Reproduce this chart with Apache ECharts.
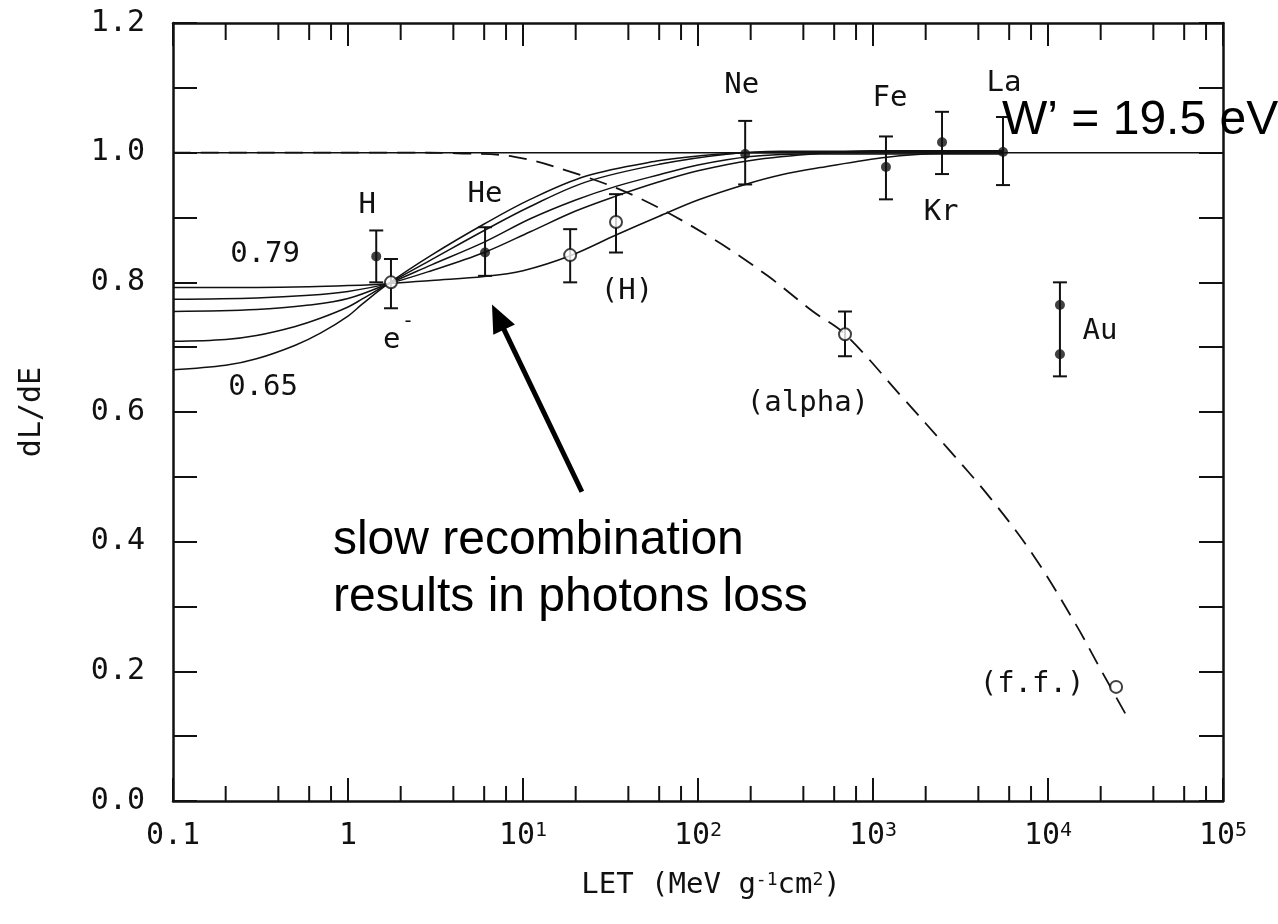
<!DOCTYPE html>
<html><head><meta charset="utf-8">
<script src="https://cdn.jsdelivr.net/npm/echarts@6/dist/echarts.min.js"></script>
<style>html,body{margin:0;padding:0;background:#fff}#c{width:1278px;height:924px}</style>
</head><body><div id="c"></div>
<script>
// ---------- DATA ----------
const xTickLabels = ['0.1', '1', '10{sup|1}', '10{sup|2}', '10{sup|3}', '10{sup|4}', '10{sup|5}'];
const yTickLabels = ['0.0', '0.2', '0.4', '0.6', '0.8', '1.0', '1.2'];
const xMinorTicks = [0.2,0.4,0.6,0.8, 2,4,6,8, 20,40,60,80, 200,400,600,800, 2000,4000,6000,8000, 20000,40000,60000,80000];

const refLine = [[0.1, 1.0], [100000, 1.0]];
const curve079 = [[0.1,0.792],[0.3,0.792],[0.6,0.793],[1,0.795],[1.7,0.798],[3,0.803],[6,0.809],[10,0.818],[18.6,0.841],[34,0.873],[60,0.902],[100,0.927],[186,0.951],[300,0.966],[500,0.977],[1200,0.993],[2500,0.999],[5500,1.0]];
const curve077 = [[0.1,0.774],[0.3,0.776],[0.6,0.780],[1,0.786],[1.7,0.798],[3,0.818],[6,0.846],[11,0.878],[20,0.910],[34,0.933],[60,0.955],[100,0.972],[200,0.988],[500,0.999],[1000,1.003],[5500,1.003]];
const curve075 = [[0.1,0.755],[0.3,0.758],[0.6,0.765],[1,0.775],[1.7,0.798],[3,0.827],[6,0.862],[11,0.898],[20,0.927],[34,0.948],[60,0.966],[100,0.981],[200,0.994],[400,0.998],[5500,0.998]];
const curve071 = [[0.1,0.709],[0.2,0.712],[0.3,0.718],[0.5,0.732],[0.7,0.745],[1,0.762],[1.2,0.774],[1.7,0.798],[3,0.835],[6,0.880],[11,0.917],[23,0.955],[60,0.982],[150,0.998],[300,1.002],[5500,1.002]];
const curve065 = [[0.1,0.665],[0.2,0.672],[0.3,0.682],[0.5,0.703],[0.7,0.722],[1,0.748],[1.2,0.766],[1.7,0.798],[3,0.842],[6,0.890],[11,0.928],[23,0.964],[58,0.987],[100,0.995],[200,1.0],[5500,1.0]];
const dashedCurve = [[0.1,1.0],[2,1.0],[4.2,0.999],[8.8,0.994],[21,0.966],[47,0.929],[122,0.867],[250,0.810],[454,0.755],[692,0.720],[1500,0.620],[2650,0.545],[4660,0.468],[8200,0.380],[14450,0.272],[19800,0.205],[29400,0.122]];

const filledX = [1.45, 6.07, 186, 1186, 2480, 5530, 11700, 11700];
const filledY = [0.840, 0.846, 0.998, 0.978, 1.016, 1.001, 0.765, 0.689];
const openX = [1.76, 18.6, 34, 692, 24500];
const openY = [0.800, 0.842, 0.893, 0.720, 0.176];
const errX  = [1.45, 6.07, 186, 1186, 2480, 5530, 11700, 1.76, 18.6, 34, 692];
const errLo = [0.800, 0.810, 0.951, 0.928, 0.967, 0.950, 0.655, 0.760, 0.800, 0.846, 0.686];
const errHi = [0.880, 0.885, 1.049, 1.025, 1.063, 1.055, 0.800, 0.836, 0.882, 0.936, 0.755];

const labelText = ['H', 'He', 'Ne', 'Fe', 'La', 'Kr', '0.79', '0.65', 'e', '-', '(H)', '(alpha)', 'Au', '(f.f.)'];
const labelX    = [1.29, 6.07, 178, 1250, 5610, 2450, 0.336, 0.327, 1.78, 2.2, 39.3, 425, 19800, 8110];
const labelY    = [0.919, 0.936, 1.104, 1.084, 1.107, 0.908, 0.843, 0.638, 0.710, 0.739, 0.786, 0.613, 0.724, 0.179];

const noteText = ['W\u2019 = 19.5 eV', 'slow recombination', 'results in photons loss'];
const noteX    = [5460, 0.82, 0.82];
const noteY    = [1.049, 0.4015, 0.3135];

const arrowFrom = [21.7, 0.477];
const arrowTo   = [6.65, 0.766];

// ---------- CHART ----------
const MONO = "'DejaVu Sans Mono', monospace";
const HELV = "'Liberation Sans', Arial, sans-serif";
const INK = '#111';

const chart = echarts.init(document.getElementById('c'), null, {renderer: 'canvas'});

function xAxisCfg(pos, showLabel) {
  return {
    type: 'log', logBase: 10, min: 0.1, max: 100000, splitNumber: 6, position: pos,
    axisLine: {show: true, onZero: false, lineStyle: {color: INK, width: 2.5}},
    axisTick: {show: true, inside: true, length: 23, lineStyle: {color: INK, width: 2}},
    minorTick: {show: false},
    splitLine: {show: false},
    axisLabel: showLabel ? {
      show: true, margin: 20, color: INK, fontFamily: MONO, fontSize: 30,
      formatter: v => xTickLabels[Math.round(Math.log10(v)) + 1],
      rich: {sup: {fontSize: 20, fontFamily: MONO, color: INK, verticalAlign: 'top', lineHeight: 14}}
    } : {show: false},
    name: showLabel ? 'LET (MeV g{sup|-1}cm{sup|2})' : '',
    nameLocation: 'middle', nameGap: 70,
    nameTextStyle: {color: INK, fontFamily: MONO, fontSize: 29, padding: [0, 0, 0, 26],
      rich: {sup: {fontSize: 18, fontFamily: MONO, color: INK, verticalAlign: 'top', lineHeight: 12}}}
  };
}
function yAxisCfg(pos, showLabel) {
  return {
    type: 'value', min: 0, max: 1.2, interval: 0.2, position: pos,
    axisLine: {show: true, onZero: false, lineStyle: {color: INK, width: 2.5}},
    axisTick: {show: true, inside: true, length: 24, lineStyle: {color: INK, width: 2}},
    minorTick: {show: true, splitNumber: 2, length: 24, lineStyle: {color: INK, width: 2}},
    splitLine: {show: false},
    axisLabel: showLabel ? {
      show: true, margin: 28, color: INK, fontFamily: MONO, fontSize: 30,
      formatter: v => yTickLabels[Math.round(v / 0.2)]
    } : {show: false},
    name: showLabel ? 'dL/dE' : '',
    nameLocation: 'middle', nameGap: 126,
    nameTextStyle: {color: INK, fontFamily: MONO, fontSize: 30}
  };
}

function lineSeries(data, dashed) {
  return {
    type: 'line', data: data, xAxisIndex: 0, yAxisIndex: 0,
    showSymbol: false, smooth: 0.35, silent: true, z: 3,
    lineStyle: {color: INK, width: dashed ? 1.8 : 1.5, type: dashed ? [18, 10] : 'solid'}
  };
}

const option = {
  backgroundColor: '#fff',
  animation: false,
  grid: {left: 173, right: 55, top: 23, bottom: 123},
  xAxis: [xAxisCfg('bottom', true), xAxisCfg('top', false)],
  yAxis: [yAxisCfg('left', true), yAxisCfg('right', false)],
  series: [
    lineSeries(refLine, false),
    lineSeries(curve079, false),
    lineSeries(curve077, false),
    lineSeries(curve075, false),
    lineSeries(curve071, false),
    lineSeries(curve065, false),
    lineSeries(dashedCurve, true),
    { // minor ticks on bottom and top x axes
      type: 'custom', silent: true, clip: false, z: 5,
      data: xMinorTicks.map(v => [v]),
      encode: {x: 0},
      renderItem: (params, api) => {
        const v = api.value(0);
        const b = api.coord([v, 0]);
        const t = api.coord([v, 1.2]);
        const st = {stroke: INK, lineWidth: 2};
        return {type: 'group', children: [
          {type: 'line', shape: {x1: b[0], y1: b[1], x2: b[0], y2: b[1] - 15}, style: st},
          {type: 'line', shape: {x1: t[0], y1: t[1], x2: t[0], y2: t[1] + 17}, style: st}
        ]};
      }
    },
    { // error bars
      type: 'custom', silent: true, z: 6,
      data: errX.map((x, i) => [x, errLo[i], errHi[i]]),
      encode: {x: 0, y: [1, 2]},
      renderItem: (params, api) => {
        const x = api.value(0);
        const lo = api.coord([x, api.value(1)]);
        const hi = api.coord([x, api.value(2)]);
        const w = 7;
        const st = {stroke: INK, lineWidth: 2};
        return {type: 'group', children: [
          {type: 'line', shape: {x1: lo[0], y1: lo[1], x2: hi[0], y2: hi[1]}, style: st},
          {type: 'line', shape: {x1: lo[0] - w, y1: lo[1], x2: lo[0] + w, y2: lo[1]}, style: st},
          {type: 'line', shape: {x1: hi[0] - w, y1: hi[1], x2: hi[0] + w, y2: hi[1]}, style: st}
        ]};
      }
    },
    {
      type: 'scatter', silent: true, z: 7,
      data: filledX.map((x, i) => [x, filledY[i]]),
      symbol: 'circle', symbolSize: 10,
      itemStyle: {color: INK}
    },
    {
      type: 'scatter', silent: true, z: 7,
      data: openX.map((x, i) => [x, openY[i]]),
      symbol: 'circle', symbolSize: 12,
      itemStyle: {color: '#fff', borderColor: INK, borderWidth: 2}
    },
    { // text labels on the plot
      type: 'custom', silent: true, clip: false, z: 8,
      data: labelX.map((x, i) => [x, labelY[i]]),
      encode: {x: 0, y: 1},
      renderItem: (params, api) => {
        const p = api.coord([api.value(0), api.value(1)]);
        const t = labelText[params.dataIndex];
        return {type: 'text', x: p[0], y: p[1], style: {
          text: t, fill: INK, fontFamily: MONO, fontSize: t === '-' ? 20 : 29,
          align: 'center', verticalAlign: 'middle'}};
      }
    },
    { // annotation texts
      type: 'custom', silent: true, clip: false, z: 9,
      data: noteX.map((x, i) => [x, noteY[i]]),
      encode: {x: 0, y: 1},
      renderItem: (params, api) => {
        const p = api.coord([api.value(0), api.value(1)]);
        return {type: 'text', x: p[0], y: p[1], style: {
          text: noteText[params.dataIndex], fill: '#000', fontFamily: HELV, fontSize: 48,
          align: 'left', verticalAlign: 'middle'}};
      }
    },
    { // arrow
      type: 'custom', silent: true, clip: false, z: 9,
      data: [[arrowFrom[0], arrowFrom[1], arrowTo[0], arrowTo[1]]],
      encode: {x: [0, 2], y: [1, 3]},
      renderItem: (params, api) => {
        const s = api.coord([api.value(0), api.value(1)]);
        const t = api.coord([api.value(2), api.value(3)]);
        const dx = t[0] - s[0], dy = t[1] - s[1];
        const len = Math.sqrt(dx * dx + dy * dy);
        const ux = dx / len, uy = dy / len;
        const L = 28, W = 12;
        const bx = t[0] - ux * L, by = t[1] - uy * L;
        const nx = -uy, ny = ux;
        return {type: 'group', children: [
          {type: 'line', shape: {x1: s[0], y1: s[1], x2: bx + ux * 2, y2: by + uy * 2},
           style: {stroke: '#000', lineWidth: 5}},
          {type: 'polygon', shape: {points: [[t[0], t[1]], [bx + nx * W, by + ny * W], [bx - nx * W, by - ny * W]]},
           style: {fill: '#000'}}
        ]};
      }
    }
  ]
};
chart.setOption(option);
</script>
</body></html>
